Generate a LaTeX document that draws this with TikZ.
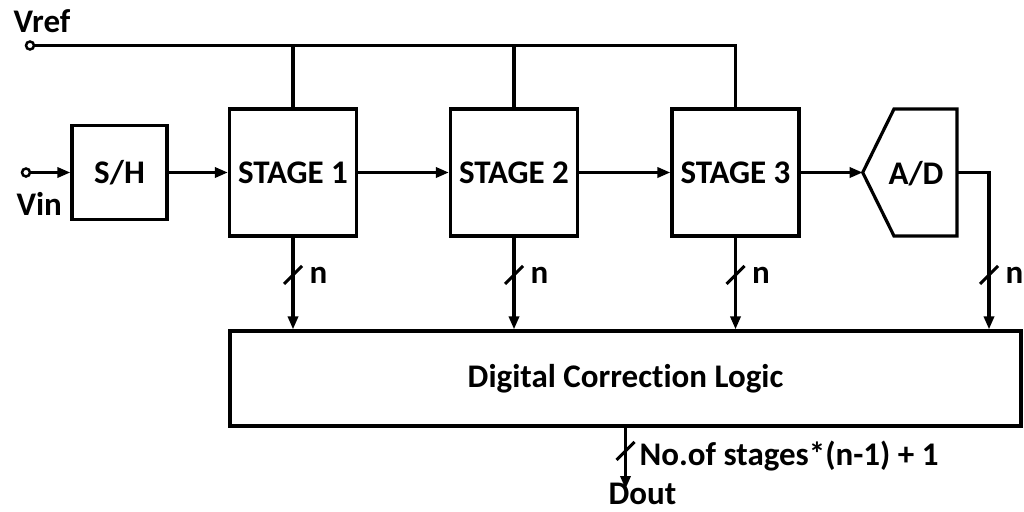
\documentclass[tikz,border=0pt]{standalone}
\usepackage{fontspec}
\setmainfont{Carlito}[Ligatures=NoCommon]
\usepackage{tikz}
\usetikzlibrary{arrows.meta}

\begin{document}
\begin{tikzpicture}[x=1pt, y=-1pt, line width=3.2pt,
  >={Triangle[length=13pt, width=10pt]},
  lbl/.style={font=\bfseries\fontsize{33}{37}\selectfont, inner sep=0pt},
  blk/.style={draw, lbl, minimum width=127pt, minimum height=127pt},
  term/.style={draw, circle, fill=white, line width=2.5pt, minimum size=8pt, inner sep=0pt}]
\useasboundingbox (0,0) rectangle (1024,511);

% inputs
\node[term] (vref) at (30,45.5) {};
\node[term] (vin) at (26,172.5) {};
\node[lbl, anchor=base west] (vreflbl) at (12,33) {Vref};
\node[lbl, anchor=base west] (vinlbl) at (15,215) {Vin};

% sample and hold plus the pipeline stages
\node[blk, minimum width=95pt, minimum height=94pt] (sh) at (119.5,172.5) {S/H};
\foreach \i/\x in {1/293, 2/514, 3/735.5} {
 \node[blk] (st\i) at (\x,172.5) {STAGE \i};
}

% final flash A/D
\coordinate (adin) at (862.7,172.5);
\coordinate (adout) at (957,172.5);
\draw (adin) -- (894,109) -- (957,109) -- (957,236) -- (894,236) -- cycle;
\node[lbl] (ad) at (916,174) {A/D};

% correction logic
\node[draw, lbl, minimum width=791pt, minimum height=95pt] (dcl) at (625.5,378.5) {Digital Correction Logic};

% signal path
\draw[->] (vin) -- (sh);
\draw[->] (sh) -- (st1);
\draw[->] (st1) -- (st2);
\draw[->] (st2) -- (st3);
\draw[->] (st3) -- (adin);

% reference line
\draw (vref) -| (st3.north);
\foreach \i in {1,2} {
 \draw (st\i.north) -- (st\i.north |- vref);
}

% n-bit buses into the logic
\coordinate (adtap) at (989,172.5);
\foreach \i in {1,2,3} {
 \draw[->] (st\i.south) -- (st\i.south |- dcl.north);
}
\draw[->] (adout) -- (adtap) -- (adtap |- dcl.north);
\foreach \x [count=\k] in {293, 514, 735.5, 989} {
 \draw[line width=3pt] (\x-9,284) -- (\x+9,266);
 \node[lbl, anchor=base west] (nb\k) at (\x+15,283) {n};
}

% output word
\coordinate (dend) at (625.5,489);
\draw[->] (dcl.south) -- (dend);
\draw[line width=3pt] (616.5,460) -- (634.5,442);
\node[lbl, anchor=base west] (nbits) at (638,465) {No.of stages*(n-1) + 1};
\node[lbl, anchor=base west] (dout) at (607,504) {Dout};
\end{tikzpicture}
\end{document}
